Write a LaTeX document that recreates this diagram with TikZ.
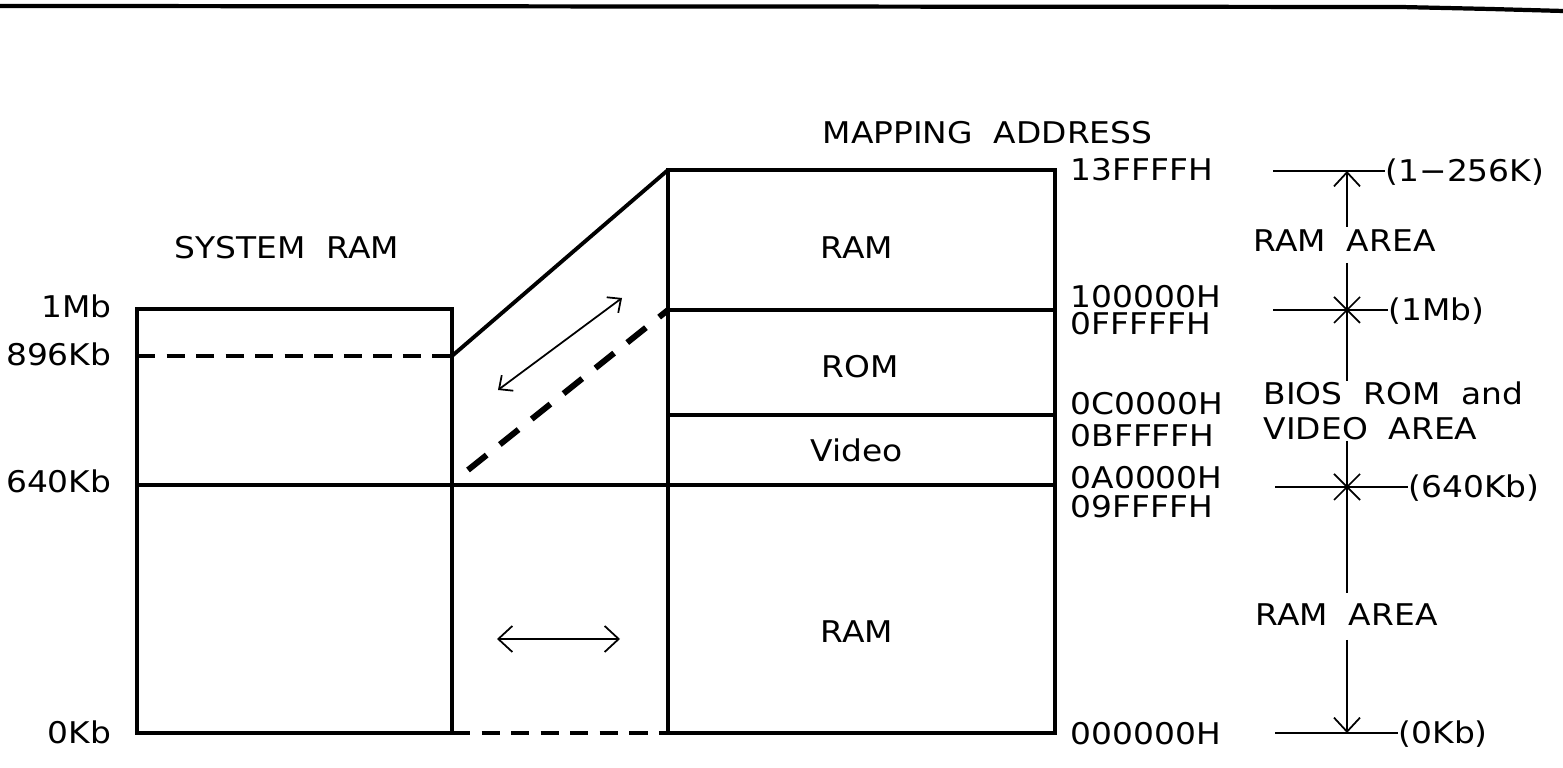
\documentclass[tikz,border=0pt]{standalone}
\usepackage{fontspec}
\setmainfont{DejaVu Sans}[FakeStretch=1.1]
\usetikzlibrary{arrows.meta,calc}
\begin{document}
\begin{tikzpicture}[x=0.01cm,y=-0.01cm,
  lbl/.style={inner sep=0pt,text height=6.2pt,text depth=0pt,font=\fontsize{8.5pt}{10pt}\selectfont},
  boxline/.style={line width=1.1pt,line join=miter},
  thinline/.style={line width=0.5pt},
  shortdash/.style={line width=1.2pt,dash pattern=on 5.2pt off 3.2pt},
  longdash/.style={line width=1.7pt,dash pattern=on 6.8pt off 4.8pt},
  barb/.style={thinline,{Straight Barb[length=4pt,width=7.4pt]}-{Straight Barb[length=4pt,width=7.4pt]}},
  smallbarb/.style={thinline,{Straight Barb[length=3pt,width=5.5pt]}-{Straight Barb[length=3pt,width=5.5pt]}},
  crossmark/.style={thinline}
]
\useasboundingbox (0,0) rectangle (1563,768);
% scanned page edge
\draw[line width=1.2pt] (0,6) -- (1400,7) -- (1490,9) -- (1563,11);

% ---- left box (system RAM)
\coordinate (LTL) at (137,309);
\coordinate (LTR) at (452,309);
\coordinate (LBL) at (137,733);
\coordinate (LBR) at (452,733);
\coordinate (L896a) at (137,356);
\coordinate (L896b) at (452,356);
\coordinate (L640a) at (137,485);

% ---- right box (mapping)
\coordinate (RTL) at (668,170);
\coordinate (RTR) at (1055,170);
\coordinate (RBL) at (668,733);
\coordinate (RBR) at (1055,733);
\coordinate (R1Ma) at (668,310);
\coordinate (R1Mb) at (1055,310);
\coordinate (RC0a) at (668,415);
\coordinate (RC0b) at (1055,415);
\coordinate (R640b) at (1055,485);

\draw[boxline] (LBL) -- (LTL) -- (LTR) -- (LBR) -- cycle;
\draw[shortdash] (L896a) -- (L896b);
\draw[boxline] (L640a) -- (R640b);
\draw[boxline] (RTL) -- (RTR) -- (RBR) -- (RBL) -- cycle;
\draw[boxline] (R1Ma) -- (R1Mb);
\draw[boxline] (RC0a) -- (RC0b);

% connections between boxes
\draw[boxline] (L896b) -- (RTL);
\coordinate (D1) at (468,470);
\draw[longdash] (D1) -- (R1Ma);
\draw[shortdash] (LBR) -- (RBL);

% double arrows
\coordinate (A1) at (498,390);
\coordinate (A2) at (622,298);
\draw[smallbarb] (A1) -- (A2);
\coordinate (H1) at (497,639);
\coordinate (H2) at (620,639);
\draw[barb] (H1) -- (H2);

% ---- left labels
\node[lbl,anchor=center] (sysram) at (287,248) {SYSTEM\ \ RAM};
\node[lbl,anchor=east] (l1mb) at (112,307) {1Mb};
\node[lbl,anchor=east] (l896) at (112,355) {896Kb};
\node[lbl,anchor=east] (l640) at (112,482) {640Kb};
\node[lbl,anchor=east] (l0kb) at (112,733) {0Kb};

% ---- box labels
\node[lbl] (bram1) at (857,248) {RAM};
\node[lbl] (brom) at (860,367) {ROM};
\node[lbl] (bvideo) at (857,451) {Video};
\node[lbl] (bram2) at (857,632) {RAM};

% ---- address labels
\node[lbl,anchor=west] (mapaddr) at (822,133) {MAPPING\ \ ADDRESS};
\node[lbl,anchor=west] (a13) at (1070,170) {13FFFFH};
\node[lbl,anchor=west] (a10) at (1070,297) {100000H};
\node[lbl,anchor=west] (a0F) at (1070,324) {0FFFFFH};
\node[lbl,anchor=west] (a0C) at (1070,404) {0C0000H};
\node[lbl,anchor=west] (a0B) at (1070,436) {0BFFFFH};
\node[lbl,anchor=west] (a0A) at (1070,478) {0A0000H};
\node[lbl,anchor=west] (a09) at (1070,507) {09FFFFH};
\node[lbl,anchor=west] (a00) at (1070,734) {000000H};

% ---- right annotations
\node[lbl,anchor=west] (p256) at (1385,171) {(1−256K)};
\node[lbl,anchor=west] (p1mb) at (1388,310) {(1Mb)};
\node[lbl,anchor=west] (p640) at (1408,487) {(640Kb)};
\node[lbl,anchor=west] (p0kb) at (1398,733) {(0Kb)};
\node[lbl,anchor=west] (area1) at (1253,241) {RAM\ \ AREA};
\node[lbl,anchor=west] (bios) at (1263,394) {BIOS\ \ ROM\ \ and};
\node[lbl,anchor=west] (video) at (1263,429) {VIDEO\ \ AREA};
\node[lbl,anchor=west] (area2) at (1255,615) {RAM\ \ AREA};

\coordinate (T0) at (1273,171);
\coordinate (T0c) at (1347,171);
\coordinate (T1) at (1273,310);
\coordinate (T1c) at (1347,310);
\coordinate (T2) at (1275,487);
\coordinate (T2c) at (1347,487);
\coordinate (T3) at (1275,733);
\coordinate (T3c) at (1347,733);

\draw[thinline] (T0) -- (p256.west);
\draw[thinline] (T1) -- (p1mb.west);
\draw[thinline] (T2) -- (p640.west);
\draw[thinline] (T3) -- (p0kb.west);

% vertical dimension line with gaps for the texts
\coordinate (V1) at (1347,227);
\coordinate (V2) at (1347,263);
\coordinate (V3) at (1347,381);
\coordinate (V4) at (1347,441);
\coordinate (V5) at (1347,593);
\coordinate (V6) at (1347,640);
\draw[thinline,-{Straight Barb[length=4pt,width=7.4pt]}] (V1) -- (T0c);
\draw[thinline] (V2) -- (V3);
\draw[thinline] (V4) -- (V5);
\draw[thinline,-{Straight Barb[length=4pt,width=7.4pt]}] (V6) -- (T3c);

% cross marks
\draw[crossmark] ($(T1c)+(-13,-13)$) -- ($(T1c)+(13,13)$);
\draw[crossmark] ($(T1c)+(-13,13)$) -- ($(T1c)+(13,-13)$);
\draw[crossmark] ($(T2c)+(-13,-13)$) -- ($(T2c)+(13,13)$);
\draw[crossmark] ($(T2c)+(-13,13)$) -- ($(T2c)+(13,-13)$);
\end{tikzpicture}
\end{document}
